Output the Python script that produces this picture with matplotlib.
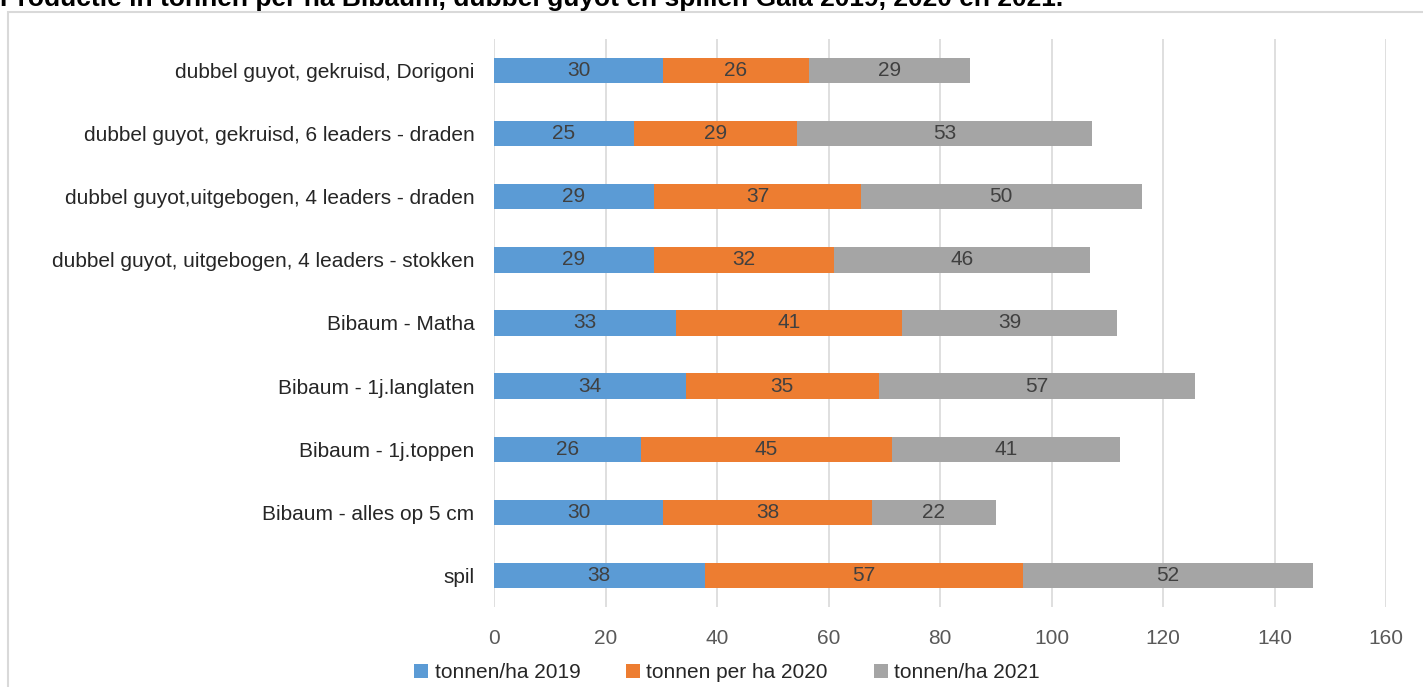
import matplotlib
matplotlib.use("Agg")
import matplotlib.pyplot as plt
from matplotlib.patches import Rectangle
import numpy as np

# categories, top to bottom as in the chart
categories = [
    "dubbel guyot, gekruisd, Dorigoni",
    "dubbel guyot, gekruisd, 6 leaders - draden",
    "dubbel guyot,uitgebogen, 4 leaders - draden",
    "dubbel guyot, uitgebogen, 4 leaders - stokken",
    "Bibaum - Matha",
    "Bibaum - 1j.langlaten",
    "Bibaum - 1j.toppen",
    "Bibaum - alles op 5 cm",
    "spil",
]
t2019 = [30.3, 25.1, 28.7, 28.7, 32.6, 34.4, 26.4, 30.3, 37.8]
t2020 = [26.2, 29.2, 37.1, 32.3, 40.6, 34.6, 45.0, 37.5, 57.0]
t2021 = [28.9, 53.0, 50.4, 45.9, 38.6, 56.8, 40.9, 22.2, 52.1]
series_names = ["tonnen/ha 2019", "tonnen per ha 2020", "tonnen/ha 2021"]
colors = ["#5B9BD5", "#ED7D31", "#A5A5A5"]
xticks = [0, 20, 40, 60, 80, 100, 120, 140, 160]
title = "Productie in tonnen per ha Bibaum, dubbel guyot en spillen Gala 2019, 2020 en 2021."

plt.rcParams["font.family"] = ["Liberation Sans", "DejaVu Sans"]
FS = 15

W, H = 1423, 687
fig = plt.figure(figsize=(W / 100, H / 100), dpi=100)
ax = fig.add_axes([494 / W, (H - 607) / H, 892 / W, 568 / H])

y = np.arange(len(categories))
left = np.zeros(len(categories))
for vals, name, col in zip([t2019, t2020, t2021], series_names, colors):
    bars = ax.barh(y, vals, left=left, height=0.4, color=col, label=name, zorder=3)
    ax.bar_label(bars, labels=[f"{v:.0f}" for v in vals], label_type="center",
                 color="#404040", fontsize=FS, zorder=4)
    left = left + np.array(vals)

ax.set_ylim(len(categories) - 0.5, -0.5)
ax.set_xlim(0, 160)
ax.set_xticks(xticks)
ax.set_yticks(y)
ax.set_yticklabels(categories)
ax.grid(axis="x", color="#D9D9D9", lw=1.2, zorder=0)
for s in ax.spines.values():
    s.set_visible(False)
ax.tick_params(axis="both", length=0, labelsize=FS, colors="#262626")
ax.tick_params(axis="x", pad=16, labelcolor="#595959")
ax.tick_params(axis="y", pad=14)

leg = fig.legend(loc="center", bbox_to_anchor=(727 / W, 1 - 673 / H), ncol=3,
                 frameon=False, fontsize=FS, handlelength=0.67, handleheight=0.67,
                 handletextpad=0.3, columnspacing=2.2, labelcolor="#262626")

# outer chart frame (partially outside the image)
fig.patches.append(Rectangle((8 / W, -0.1), 1.2, 1 - 12 / H + 0.1, transform=fig.transFigure,
                             fill=False, edgecolor="#D9D9D9", lw=1.5))
# title sits mostly above the crop, like the source screenshot
fig.text(0.0, 1 - 6 / H, title, fontsize=19, fontweight="bold", va="baseline", ha="left")

fig.savefig("out.png", dpi=100)
